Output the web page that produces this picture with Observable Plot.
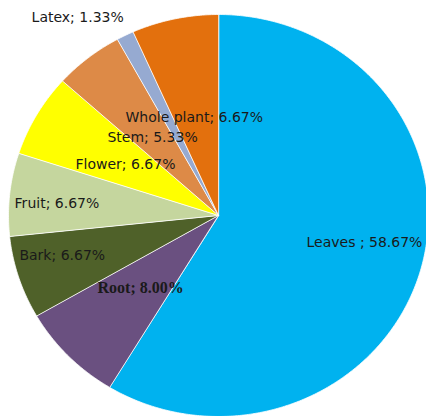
<!DOCTYPE html>
<html>
<head>
<meta charset="utf-8">
<script src="https://cdn.jsdelivr.net/npm/d3@7"></script>
<script src="https://cdn.jsdelivr.net/npm/@observablehq/plot@0.6"></script>
<style>
  html, body { margin: 0; padding: 0; background: #fff; }
  svg { display: block; }
</style>
</head>
<body>
<div id="chart"></div>
<script>
// Data (clockwise from 12 o'clock)
const categories = ["Leaves", "Root", "Bark", "Fruit", "Flower", "Stem", "Latex", "Whole plant"];
const values = [58.67, 8.00, 6.67, 6.67, 6.67, 5.33, 1.33, 6.67];
const sliceColors = ["#00B2EF", "#6A5080", "#4F6129", "#C5D69E", "#FFFF00", "#DD8A47", "#96AAD1", "#E3700D"];
const labelTexts = ["Leaves ; 58.67%", "Root; 8.00%", "Bark; 6.67%", "Fruit; 6.67%", "Flower; 6.67%", "Stem; 5.33%", "Latex; 1.33%", "Whole plant; 6.67%"];
// label anchor positions (unit-circle coordinates, left edge of text)
const labelX = [0.419, -0.576, -0.948, -0.971, -0.681, -0.529, -0.890, -0.443];
const labelY = [-0.134, -0.358, -0.199, 0.060, 0.254, 0.388, 0.985, 0.488];

// Build slice polygons
const total = d3.sum(values);
const pts = [];
let acc = 0;
values.forEach((v, i) => {
  const a0 = acc / total * 2 * Math.PI;
  acc += v;
  const a1 = acc / total * 2 * Math.PI;
  const name = categories[i];
  pts.push({name, x: 0, y: 0});
  const n = Math.max(2, Math.ceil((a1 - a0) / (Math.PI / 360)));
  for (let k = 0; k <= n; k++) {
    const a = a0 + (a1 - a0) * k / n;
    pts.push({name, x: Math.sin(a), y: Math.cos(a)});
  }
});

const labelData = categories.map((c, i) => ({name: c, text: labelTexts[i], x: labelX[i], y: labelY[i]}));

const chart = Plot.plot({
  width: 426,
  height: 416,
  margin: 0,
  style: {background: "#fff"},
  x: {domain: [-218 / 210, (426 - 218) / 210], axis: null},
  y: {domain: [-(416 - 215) / 201, 215 / 201], axis: null},
  color: {domain: categories, range: sliceColors},
  marks: [
    Plot.line(pts, {x: "x", y: "y", z: "name", fill: "name", stroke: "#ffffff", strokeWidth: 0.8, curve: "linear-closed"}),
    Plot.text(labelData.filter(d => d.name !== "Root"), {
      x: "x", y: "y", text: "text", textAnchor: "start",
      fontSize: 14, fontFamily: "DejaVu Sans", fill: "#1a1a1a"
    }),
    Plot.text(labelData.filter(d => d.name === "Root"), {
      x: "x", y: "y", text: "text", textAnchor: "start",
      fontSize: 16, fontWeight: "bold", fontFamily: "Liberation Serif", fill: "#1a1a1a"
    })
  ]
});
document.getElementById("chart").append(chart);
</script>
</body>
</html>
